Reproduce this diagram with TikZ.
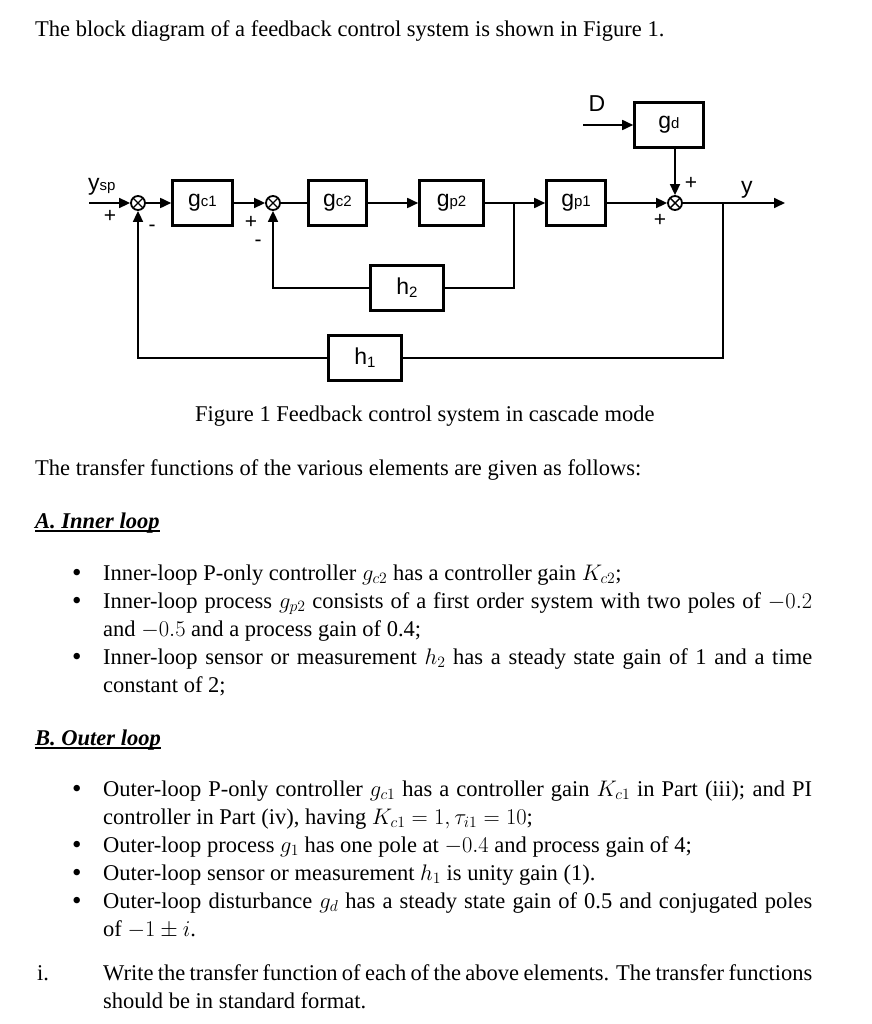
\RequirePackage{fix-cm}
\documentclass[tikz,border=0pt]{standalone}
\usepackage{amsmath}
\usepackage{fontspec}
\setmainfont{Liberation Serif}
\setsansfont{Liberation Sans}
\usetikzlibrary{arrows.meta}
\newcommand{\bodytxt}{\fontsize{22.5}{28}\selectfont}
\newcommand{\blkfont}{\sffamily\fontsize{23}{23}\selectfont}
\newcommand{\subtxt}[1]{{\fontsize{15}{15}\selectfont #1}}
\newcommand{\fline}[1]{\makebox[709pt][s]{#1}}
\newcommand{\bigdot}{\raisebox{-1.5pt}{\scalebox{1.2}{\textbullet}}}

\begin{document}
\begin{tikzpicture}[x=1pt,y=-1pt,
    blk/.style={draw, line width=2.6pt, minimum height=45pt, inner sep=0pt, font=\blkfont},
    sumj/.style={circle, draw, line width=1.8pt, minimum size=14pt, inner sep=0pt,
      path picture={\draw[line width=1.4pt] (path picture bounding box.south west) -- (path picture bounding box.north east)
        (path picture bounding box.north west) -- (path picture bounding box.south east);}},
    sig/.style={line width=1.7pt, -{Triangle[length=11pt,width=10pt]}},
    fb/.style={line width=1.7pt},
    sgn/.style={font=\sffamily\fontsize{21}{21}\selectfont, inner sep=0pt},
    txt/.style={anchor=base west, inner sep=0pt, font=\bodytxt}]
\useasboundingbox (0,0) rectangle (871,1024);

% block diagram
\node[sumj] (sum1) at (138,203) {};
\node[sumj] (sum2) at (273,203) {};
\node[sumj] (sum3) at (675,203) {};
\node[blk, minimum width=60pt] (gc1) at (202.5,203) {g\subtxt{c1}};
\node[blk, minimum width=58pt] (gc2) at (337.5,203) {g\subtxt{c2}};
\node[blk, minimum width=64pt] (gp2) at (451.5,203) {g\subtxt{p2}};
\node[blk, minimum width=59pt] (gp1) at (576,203) {g\subtxt{p1}};
\node[blk, minimum width=69pt] (gd) at (669,125) {g\subtxt{d}};
\node[blk, minimum width=73pt] (h2) at (407,288) {h\subtxt{\raisebox{-3pt}{2}}};
\node[blk, minimum width=73pt] (h1) at (365,358) {h\subtxt{\raisebox{-3pt}{1}}};
\coordinate (in) at (89,203);
\coordinate (out) at (785,203);
\coordinate (dist) at (583,125);
\coordinate (br2) at (514,203);
\coordinate (br1) at (723,203);
\node[anchor=base west, inner sep=0pt, font=\blkfont] (ysp) at (88,191) {y\subtxt{sp}};
\node[anchor=base west, inner sep=0pt, font=\blkfont] (yout) at (741,194) {y};
\node[inner sep=0pt, font=\blkfont] (dlbl) at (597,104) {D};
\node[sgn] (p1) at (110,216) {+};
\node[sgn] (m1) at (152,228) {-};
\node[sgn] (p2) at (251,222) {+};
\node[sgn] (m2) at (258,243) {-};
\node[sgn] (p3) at (660,220) {+};
\node[sgn] (p4) at (691,183) {+};

\draw[sig] (in) -- (sum1);
\draw[sig] (sum1) -- (gc1);
\draw[sig] (gc1) -- (sum2);
\draw[fb] (sum2) -- (gc2);
\draw[sig] (gc2) -- (gp2);
\draw[sig] (gp2) -- (gp1);
\draw[sig] (gp1) -- (sum3);
\draw[sig] (sum3) -- (out);
\draw[sig] (dist) -- (gd);
\draw[sig] (gd.south -| sum3) -- (sum3);
\draw[fb] (br2) |- (h2.east);
\draw[sig] (h2.west) -| (sum2.south);
\draw[fb] (br1) |- (h1.east);
\draw[sig] (h1.west) -| (sum1.south);

% text
\node[txt] (intro) at (35,37) {The block diagram of a feedback control system is shown in Figure 1.};
\node[txt] (cap) at (195,421) {Figure 1 Feedback control system in cascade mode};
\node[txt] (given) at (35,475) {The transfer functions of the various elements are given as follows:};
\node[txt, font=\bodytxt\bfseries\itshape] (hA) at (35,528) {A. Inner loop};
\draw[line width=1.2pt] ([yshift=-3pt]hA.base west) -- ([yshift=-3pt]hA.base east);
\node[txt, font=\bodytxt\bfseries\itshape] (hB) at (35,745) {B. Outer loop};
\draw[line width=1.2pt] ([yshift=-3pt]hB.base west) -- ([yshift=-3pt]hB.base east);
\foreach \yb in {580,608,664,796,852,880,908}
  \node[txt] (bul\yb) at (72,\yb) {\bigdot};
\node[txt] (a1) at (103,580) {Inner-loop P-only controller $g_{c2}$ has a controller gain $K_{c2}$;};
\node[txt] (a2) at (103,608) {\fline{Inner-loop process $g_{p2}$ consists of a first order system with two poles of $-0.2$}};
\node[txt] (a2b) at (103,636) {and $-0.5$ and a process gain of 0.4;};
\node[txt] (a3) at (103,664) {\fline{Inner-loop sensor or measurement $h_2$ has a steady state gain of 1 and a time}};
\node[txt] (a3b) at (103,692) {constant of 2;};
\node[txt] (b1) at (103,796) {\fline{Outer-loop P-only controller $g_{c1}$ has a controller gain $K_{c1}$ in Part (iii); and PI}};
\node[txt] (b1b) at (103,824) {controller in Part (iv), having $K_{c1}=1, \tau_{i1}=10$;};
\node[txt] (b2) at (103,852) {Outer-loop process $g_1$ has one pole at $-0.4$ and process gain of 4;};
\node[txt] (b3) at (103,880) {Outer-loop sensor or measurement $h_1$ is unity gain (1).};
\node[txt] (b4) at (103,908) {\fline{Outer-loop disturbance $g_d$ has a steady state gain of 0.5 and conjugated poles}};
\node[txt] (b4b) at (103,936) {of $-1\pm i$.};
\node[txt] (qi) at (37,980) {i.};
\node[txt] (q1) at (103,980) {\fline{Write the transfer function of each of the above elements. The transfer functions}};
\node[txt] (q1b) at (103,1008) {should be in standard format.};
\end{tikzpicture}
\end{document}
